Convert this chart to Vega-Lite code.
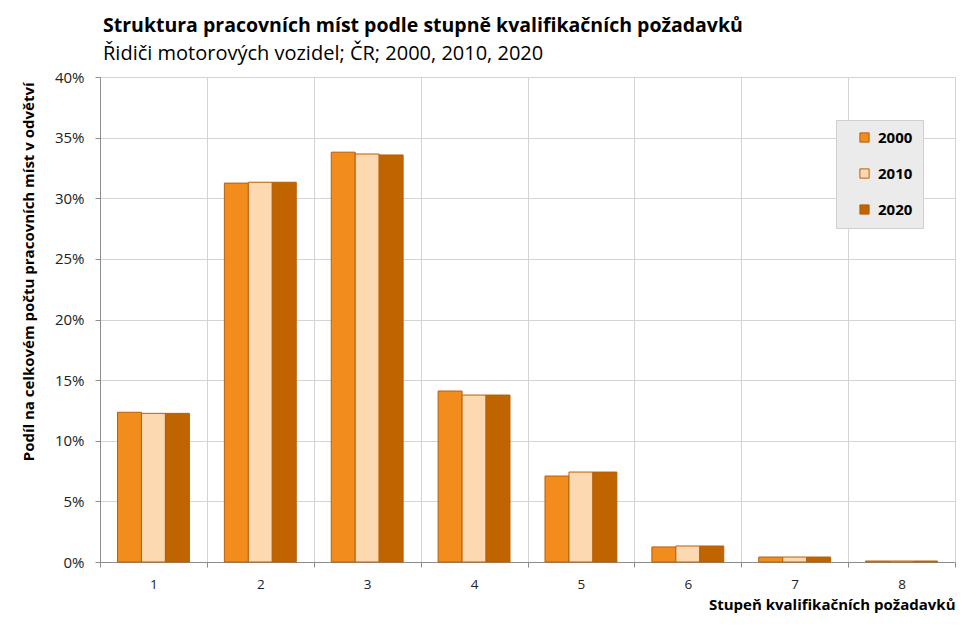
{
  "$schema": "https://vega.github.io/schema/vega-lite/v6.json",
  "width": 855,
  "height": 485,
  "padding": {"left": 21, "top": 15, "right": 19, "bottom": 5},
  "background": "white",
  "title": {
    "text": "Struktura pracovních míst podle stupně kvalifikačních požadavků",
    "subtitle": "Řidiči motorových vozidel; ČR; 2000, 2010, 2020",
    "anchor": "start",
    "frame": "group",
    "font": "Open Sans",
    "fontSize": 19.5,
    "fontWeight": "bold",
    "color": "#000000",
    "subtitleFont": "Open Sans",
    "subtitleFontSize": 20,
    "subtitleColor": "#000000",
    "subtitlePadding": 8,
    "offset": 5,
    "dx": 3
  },
  "data": {
    "values": [
      {"stupen": "1", "rok": "2000", "podil": 0.1235},
      {"stupen": "1", "rok": "2010", "podil": 0.1226},
      {"stupen": "1", "rok": "2020", "podil": 0.1226},
      {"stupen": "2", "rok": "2000", "podil": 0.3125},
      {"stupen": "2", "rok": "2010", "podil": 0.3132},
      {"stupen": "2", "rok": "2020", "podil": 0.3132},
      {"stupen": "3", "rok": "2000", "podil": 0.3380},
      {"stupen": "3", "rok": "2010", "podil": 0.3365},
      {"stupen": "3", "rok": "2020", "podil": 0.3357},
      {"stupen": "4", "rok": "2000", "podil": 0.1410},
      {"stupen": "4", "rok": "2010", "podil": 0.1377},
      {"stupen": "4", "rok": "2020", "podil": 0.1377},
      {"stupen": "5", "rok": "2000", "podil": 0.0709},
      {"stupen": "5", "rok": "2010", "podil": 0.0742},
      {"stupen": "5", "rok": "2020", "podil": 0.0742},
      {"stupen": "6", "rok": "2000", "podil": 0.0124},
      {"stupen": "6", "rok": "2010", "podil": 0.0132},
      {"stupen": "6", "rok": "2020", "podil": 0.0132},
      {"stupen": "7", "rok": "2000", "podil": 0.0041},
      {"stupen": "7", "rok": "2010", "podil": 0.0041},
      {"stupen": "7", "rok": "2020", "podil": 0.0041},
      {"stupen": "8", "rok": "2000", "podil": 0.0008},
      {"stupen": "8", "rok": "2010", "podil": 0.0008},
      {"stupen": "8", "rok": "2020", "podil": 0.0008}
    ]
  },
  "mark": {"type": "bar", "stroke": "#B5600C", "strokeWidth": 1},
  "encoding": {
    "x": {
      "field": "stupen",
      "type": "ordinal",
      "scale": {"paddingInner": 0, "paddingOuter": 0},
      "axis": {
        "title": "Stupeň kvalifikačních požadavků",
        "titleAnchor": "end",
        "titleFont": "Open Sans",
        "titleFontSize": 15,
        "titleFontWeight": "bold",
        "titleColor": "#000000",
        "titlePadding": 7,
        "labelAngle": 0,
        "labelFont": "Open Sans",
        "labelFontSize": 13.5,
        "labelColor": "#222222",
        "labelPadding": 10,
        "tickBand": "extent",
        "tickSize": 5,
        "tickColor": "#8C8C8C",
        "domainColor": "#8C8C8C",
        "grid": true,
        "gridColor": "#D4D4D4"
      }
    },
    "xOffset": {
      "field": "rok",
      "type": "nominal",
      "scale": {"paddingInner": 0, "paddingOuter": 0.73}
    },
    "y": {
      "field": "podil",
      "type": "quantitative",
      "scale": {"domain": [0, 0.4], "nice": false},
      "axis": {
        "title": "Podíl na celkovém počtu pracovních míst v odvětví",
        "titleAnchor": "end",
        "titleFont": "Open Sans",
        "titleFontSize": 15,
        "titleFontWeight": "bold",
        "titleColor": "#000000",
        "titlePadding": 18,
        "titleY": 5,
        "values": [0, 0.05, 0.1, 0.15, 0.2, 0.25, 0.3, 0.35, 0.4],
        "format": ".0%",
        "labelFont": "Open Sans",
        "labelFontSize": 15,
        "labelColor": "#222222",
        "labelPadding": 11,
        "tickSize": 5,
        "tickColor": "#8C8C8C",
        "domainColor": "#8C8C8C",
        "gridColor": "#D4D4D4"
      }
    },
    "color": {
      "field": "rok",
      "type": "nominal",
      "scale": {"domain": ["2000", "2010", "2020"], "range": ["#F28C1C", "#FDD9B2", "#C06400"]},
      "legend": {
        "title": null,
        "orient": "none",
        "legendX": 736,
        "legendY": 43,
        "fillColor": "#EBEBEB",
        "strokeColor": "#CFCFCF",
        "padding": 10,
        "rowPadding": 20,
        "symbolType": "square",
        "symbolSize": 85,
        "symbolOffset": 11,
        "symbolStrokeColor": "#B5600C",
        "symbolStrokeWidth": 1,
        "symbolOpacity": 1,
        "labelFont": "Open Sans",
        "labelFontSize": 15,
        "labelFontWeight": "bold",
        "labelColor": "#000000",
        "labelOffset": 6,
        "labelExpr": "datum.label + '   '"
      }
    }
  },
  "config": {
    "view": {"stroke": null}
  }
}
